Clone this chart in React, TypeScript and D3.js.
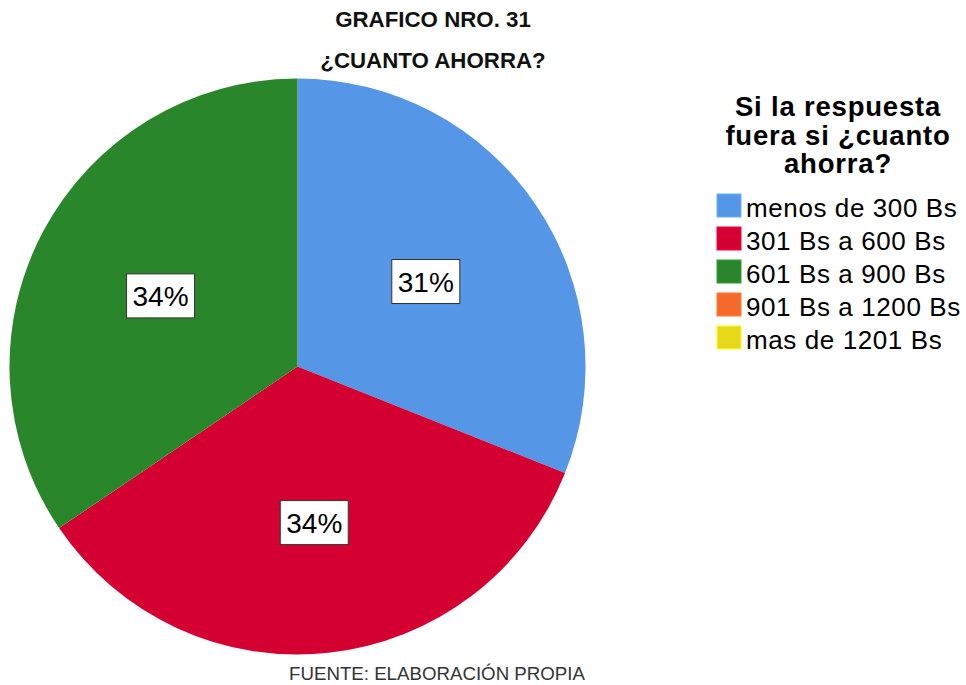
import React from 'react'
import * as d3 from 'd3'

// answers to "¿cuanto ahorra?" (counts)
const categories = ['menos de 300 Bs', '301 Bs a 600 Bs', '601 Bs a 900 Bs', '901 Bs a 1200 Bs', 'mas de 1201 Bs']
const counts = [9, 10, 10, 0, 0]
const colors = ['#5596e6', '#d50032', '#2a862a', '#f5692c', '#e6d81a']
const titleLines = ['GRAFICO NRO. 31', '¿CUANTO AHORRA?']
const legendTitle = ['Si la respuesta', 'fuera si ¿cuanto', 'ahorra?']
const footer = 'FUENTE: ELABORACIÓN PROPIA'

const W = 966
const H = 685
const font = 'Liberation Sans, Arial, Helvetica, sans-serif'

export default function App() {
    const cx = 297.5
    const cy = 366.5
    const r = 288
    const total = d3.sum(counts)

    const pie = d3.pie<number>().sort(null).value(d => d)
    const arcs = pie(counts)
    const arc = d3.arc<d3.PieArcDatum<number>>().innerRadius(0).outerRadius(r)
    const labelArc = d3.arc<d3.PieArcDatum<number>>().innerRadius(155).outerRadius(155)
    const fmt = (v: number) => Math.round(v / total * 100) + '%'

    return (
        <svg width={W} height={H} style={{ position: 'absolute', left: 0, top: 0, background: '#fff' }}>
            {/* titles */}
            {titleLines.map((t, i) => (
                <text key={t} x={433} y={27 + i * 41} textAnchor='middle'
                    fontFamily={font} fontWeight='bold' fontSize={22.3} fill='#111'>
                    {t}
                </text>
            ))}

            {/* pie */}
            <g transform={`translate(${cx},${cy})`}>
                {arcs.map((a, i) => a.value > 0 ? (
                    <path key={categories[i]} d={arc(a) || ''} fill={colors[i]} />
                ) : null)}
                {arcs.map((a, i) => {
                    if (a.value <= 0) return null
                    const [lx, ly] = labelArc.centroid(a)
                    return (
                        <g key={'l' + i} transform={`translate(${lx},${ly + 2})`}>
                            <rect x={-34} y={-22} width={68} height={44} fill='#fff' stroke='#333' strokeWidth={1} />
                            <text y={10} textAnchor='middle' fontFamily={font} fontSize={28} fill='#000'>
                                {fmt(a.value)}
                            </text>
                        </g>
                    )
                })}
            </g>

            {/* legend */}
            {legendTitle.map((t, i) => (
                <text key={t} x={838} y={116 + i * 28.5} textAnchor='middle'
                    fontFamily={font} fontWeight='bold' fontSize={27.5} letterSpacing={0.8} fill='#000'>
                    {t}
                </text>
            ))}
            {categories.map((c, i) => (
                <g key={c} transform={`translate(717,${194 + i * 33})`}>
                    <rect x={0} y={0} width={24} height={23} fill={colors[i]}
                        stroke={d3.color(colors[i])!.brighter(0.5).toString()} strokeWidth={1} />
                    <text x={29} y={23} fontFamily={font} fontSize={26} letterSpacing={0.6} fill='#000'>
                        {c}
                    </text>
                </g>
            ))}

            <text x={437} y={680} textAnchor='middle' fontFamily={font} fontSize={18.7} fill='#333'>
                {footer}
            </text>
        </svg>
    )
}
